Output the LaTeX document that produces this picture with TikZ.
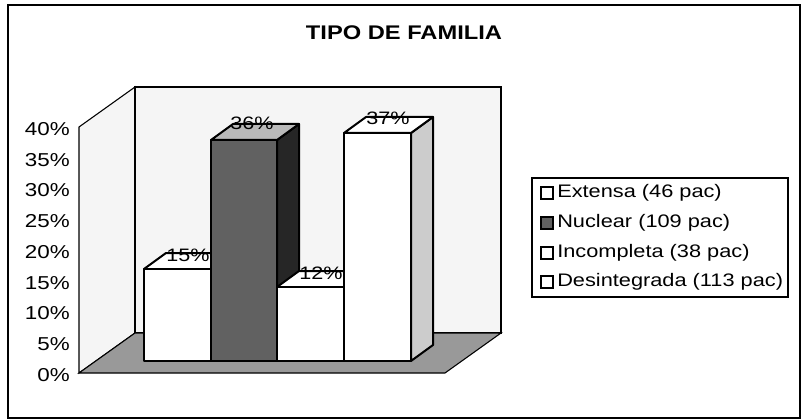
\documentclass[tikz,border=0pt]{standalone}
\usepackage{fontspec}
\usepackage{tikz}
\usetikzlibrary{positioning}
\newfontfamily\chartfont[FakeStretch=1.2]{Liberation Sans}
\definecolor{floorgray}{rgb}{0.6,0.6,0.6}
\definecolor{wallgray}{rgb}{0.96,0.96,0.96}
\definecolor{darkbar}{rgb}{0.38,0.38,0.38}

\begin{document}
\begin{tikzpicture}
    [x=0.75pt, y=-0.75pt,
    wall/.style={fill=wallgray, draw, line width=0.8pt},
    floorface/.style={fill=floorgray, draw, line width=0.8pt},
    barface/.style={draw, line width=1.5pt, line join=round},
    ylabel/.style={anchor=east, inner sep=0pt, font=\chartfont\fontsize{14}{16}\selectfont},
    vlabel/.style={inner sep=0pt, font=\chartfont\fontsize{13.5}{15}\selectfont},
    legtext/.style={anchor=west, inner sep=0pt, font=\chartfont\fontsize{13.6}{16}\selectfont},
    legmark/.style={draw, line width=0.9pt, minimum size=9pt, inner sep=0pt}]
     \useasboundingbox (0,0) rectangle (802,420);
     %\draw[step=50,gray,very thin] (0,0) grid (800,420);
     \draw[line width=1.1pt] (8,5) rectangle (800,418);
     \node[font=\chartfont\fontsize{14.8}{17}\selectfont\bfseries] (title) at (404, 33) {TIPO DE FAMILIA};
     % walls and floor
     \draw[wall] (79,127) -- (135,87) -- (135,333) -- (79,373) -- cycle;
     \draw[wall] (135,87) rectangle (501,333);
     \draw[floorface] (79,373) -- (445,373) -- (501,333) -- (135,333) -- cycle;
     % axis labels
     \node[ylabel] (p0)  at (70, 375)    {0\%};
     \node[ylabel] (p5)  at (70, 344.25) {5\%};
     \node[ylabel] (p10) at (70, 313.5)  {10\%};
     \node[ylabel] (p15) at (70, 282.75) {15\%};
     \node[ylabel] (p20) at (70, 252)    {20\%};
     \node[ylabel] (p25) at (70, 221.25) {25\%};
     \node[ylabel] (p30) at (70, 190.5)  {30\%};
     \node[ylabel] (p35) at (70, 159.75) {35\%};
     \node[ylabel] (p40) at (70, 129)    {40\%};
     % Extensa
     \draw[barface, fill=white] (211,269) -- (233,253) -- (233,345) -- (211,361) -- cycle;
     \draw[barface, fill=white] (144,269) -- (166,253) -- (233,253) -- (211,269) -- cycle;
     \draw[barface, fill=white] (144,269) rectangle (211,361);
     % Nuclear
     \draw[barface, fill=black!85] (277,140) -- (299,124) -- (299,345) -- (277,361) -- cycle;
     \draw[barface, fill=gray!55] (211,140) -- (233,124) -- (299,124) -- (277,140) -- cycle;
     \draw[barface, fill=darkbar] (211,140) rectangle (277,361);
     % Incompleta
     \draw[barface, fill=white] (344,287) -- (366,271) -- (366,345) -- (344,361) -- cycle;
     \draw[barface, fill=white] (277,287) -- (299,271) -- (366,271) -- (344,287) -- cycle;
     \draw[barface, fill=white] (277,287) rectangle (344,361);
     % Desintegrada
     \draw[barface, fill=gray!40] (411,133) -- (433,117) -- (433,345) -- (411,361) -- cycle;
     \draw[barface, fill=white] (344,133) -- (366,117) -- (433,117) -- (411,133) -- cycle;
     \draw[barface, fill=white] (344,133) rectangle (411,361);
     % values
     \node[vlabel] (v1) at (188, 255) {15\%};
     \node[vlabel] (v2) at (252, 123) {36\%};
     \node[vlabel] (v3) at (321, 273) {12\%};
     \node[vlabel] (v4) at (388, 118) {37\%};
     % legend
     \draw[line width=0.9pt] (532,178) rectangle (788,297);
     \node[legmark, fill=white]   (m1) at (547,193) {};
     \node[legmark, fill=darkbar] (m2) at (547,223) {};
     \node[legmark, fill=white]   (m3) at (547,253) {};
     \node[legmark, fill=white]   (m4) at (547,282) {};
     \node[legtext] (l1) at (557,193) {Extensa (46 pac)};
     \node[legtext] (l2) at (557,223) {Nuclear (109 pac)};
     \node[legtext] (l3) at (557,253) {Incompleta (38 pac)};
     \node[legtext] (l4) at (557,282) {Desintegrada (113 pac)};
\end{tikzpicture}
\end{document}
